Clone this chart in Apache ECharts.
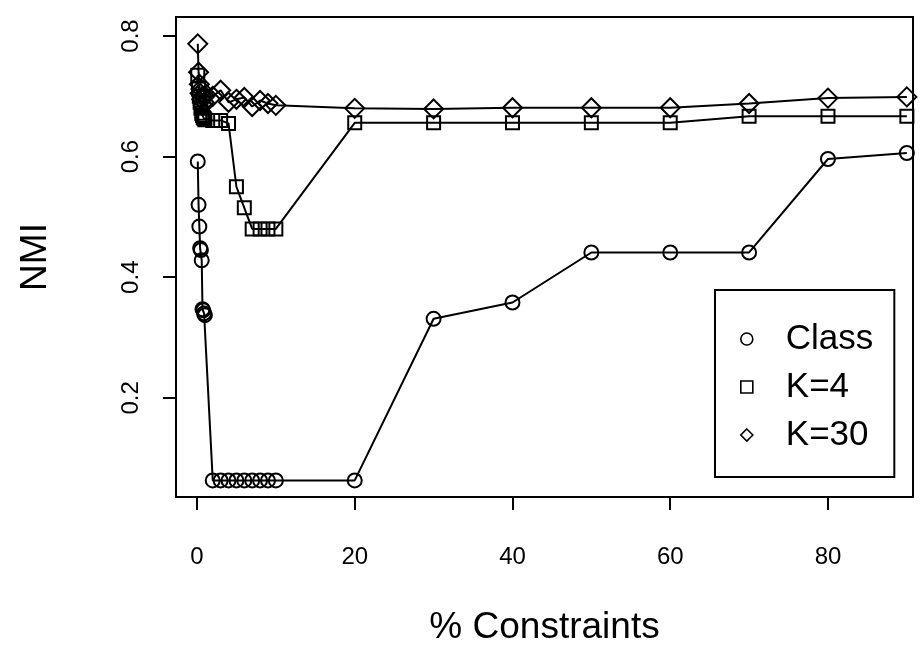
<!DOCTYPE html>
<html>
<head>
<meta charset="utf-8">
<script src="https://cdn.jsdelivr.net/npm/echarts@6/dist/echarts.min.js"></script>
<style>
html,body{margin:0;padding:0;background:#fff;}
#chart{width:923px;height:647px;}
</style>
</head>
<body>
<div id="chart"></div>
<script>
// Percentage of constraints (x values)
const constraints = [0.1,0.2,0.3,0.4,0.5,0.6,0.7,0.8,0.9,1.0, 2,3,4,5,6,7,8,9,10, 20,30,40,50,60,70,80,90];
// NMI per series
const classNMI = [0.592,0.520,0.484,0.448,0.445,0.428,0.347,0.345,0.340,0.337,
                  0.063,0.063,0.063,0.063,0.063,0.063,0.063,0.063,0.063,
                  0.063,0.331,0.358,0.441,0.441,0.441,0.596,0.606];
const k4NMI    = [0.735,0.712,0.700,0.690,0.680,0.672,0.668,0.665,0.663,0.661,
                  0.660,0.660,0.655,0.550,0.515,0.480,0.480,0.480,0.480,
                  0.656,0.656,0.656,0.656,0.656,0.667,0.667,0.667];
const k30NMI   = [0.787,0.740,0.720,0.705,0.712,0.695,0.700,0.685,0.690,0.700,
                  0.700,0.710,0.690,0.695,0.698,0.683,0.693,0.688,0.685,
                  0.680,0.679,0.681,0.681,0.681,0.688,0.697,0.699];
const seriesNames = ['Class','K=4','K=30'];
const xTicks = [0,20,40,60,80];
const yTicks = [0.2,0.4,0.6,0.8];

const FONT = '"Liberation Sans", Arial, Helvetica, sans-serif';
const pairs = ys => constraints.map((x,i)=>[x, ys[i]]);

function mkSeries(name, ys, symbol, size){
  return {
    name, type:'line', data:pairs(ys), symbol, symbolSize:size,
    showSymbol:true, animation:false,
    lineStyle:{color:'#000', width:2},
    itemStyle:{color:'rgba(0,0,0,0)', borderColor:'#000', borderWidth:2},
    emphasis:{disabled:true}, z:2
  };
}

const chart = echarts.init(document.getElementById('chart'), null, {renderer:'canvas'});
chart.setOption({
  animation:false,
  backgroundColor:'#fff',
  grid:{left:176, top:17, width:737, height:480, show:true, borderColor:'#000', borderWidth:2,
        backgroundColor:'transparent', containLabel:false, outerBoundsMode:'none'},
  xAxis:{
    type:'value', min:-2.66, max:90.78,
    axisLine:{show:false, onZero:false},
    splitLine:{show:false},
    axisTick:{show:true, inside:false, length:13, customValues:xTicks, lineStyle:{color:'#000', width:2}},
    axisLabel:{show:true, customValues:xTicks, margin:48, color:'#000', fontSize:24, fontFamily:FONT},
    name:'% Constraints', nameLocation:'middle', nameGap:112,
    nameTextStyle:{color:'#000', fontSize:37, fontFamily:FONT}
  },
  yAxis:{
    type:'value', min:0.0355, max:0.8315,
    axisLine:{show:false, onZero:false},
    splitLine:{show:false},
    axisTick:{show:true, inside:false, length:13, customValues:yTicks, lineStyle:{color:'#000', width:2}},
    axisLabel:{show:true, customValues:yTicks, rotate:90, margin:33, color:'#000', fontSize:24, fontFamily:FONT,
      formatter:v=>v.toFixed(1)},
    name:'NMI', nameLocation:'middle', nameGap:122,
    nameTextStyle:{color:'#000', fontSize:37, fontFamily:FONT}
  },
  legend:{
    orient:'vertical', left:715, top:290,
    padding:[29,21,22,25],
    backgroundColor:'#fff', borderColor:'#000', borderWidth:2, borderRadius:0,
    itemWidth:12, itemHeight:12, itemGap:8,
    selectedMode:false,
    data:[
      {name:seriesNames[0], icon:'circle'},
      {name:seriesNames[1], icon:'rect'},
      {name:seriesNames[2], icon:'diamond'}
    ],
    itemStyle:{color:'rgba(0,0,0,0)', borderColor:'#000', borderWidth:1.6},
    textStyle:{color:'#000', fontSize:35, fontFamily:FONT, lineHeight:40, padding:[0,0,0,28]}
  },
  series:[
    mkSeries(seriesNames[0], classNMI, 'circle', 14),
    mkSeries(seriesNames[1], k4NMI, 'rect', 13),
    mkSeries(seriesNames[2], k30NMI, 'diamond', 19)
  ]
});
</script>
</body>
</html>
